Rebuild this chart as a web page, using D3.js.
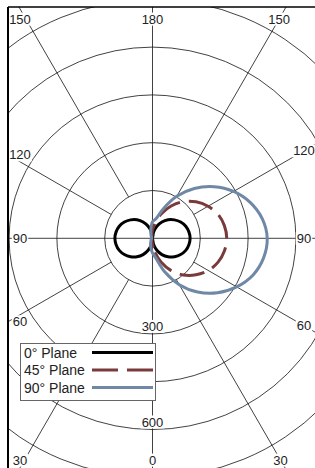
<!DOCTYPE html>
<html>
<head>
<meta charset="utf-8">
<script src="https://cdn.jsdelivr.net/npm/d3@7"></script>
<style>
body { margin: 0; background: #fff; }
text { font-family: "Liberation Sans", Arial, Helvetica, sans-serif; fill: #222; }
</style>
</head>
<body>
<div id="chart"></div>
<script>
// angle in degrees: 0 = bottom, 90 = right, 180 = top, 270 = left
var angles   = [0,10,20,30,40,50,60,70,80,90,100,110,120,130,140,150,160,170,
                180,190,200,210,220,230,240,250,260,270,280,290,300,310,320,330,340,350];
var plane0   = [2,20,40,59,76,90,102,111,116,118,116,111,102,90,76,59,40,20,
                2,20,40,59,76,90,102,111,116,118,116,111,102,90,76,59,40,20];
var plane45  = [20,45,80,117,150,178,202,219,229,233,229,219,201,178,150,117,82,50,
                25,10,5,3,3,3,3,3,3,3,3,3,3,3,3,3,5,10];
var plane90  = [46,64,112,168,220,266,305,336,354,360,350,327,294,252,204,152,98,62,
                52,30,15,8,5,4,3,3,3,3,3,3,4,5,7,10,18,30];
var ringValues   = [150,300,450,600,750,900,1050];
var radialLabels = [300,600];
var spokeAngles  = [0,30,60,90,120,150,180,210,240,270,300,330];
var seriesNames  = ["0\u00B0 Plane","45\u00B0 Plane","90\u00B0 Plane"];

var width = 315, height = 468;
var cx = 152.5, cy = 238.3;
var frame = {left: 8, top: 7, right: 315, bottom: 470};

var r = d3.scaleLinear().domain([0, 150]).range([0, 47.8]);
function rad(a) { return a * Math.PI / 180; }

var svg = d3.select("#chart").append("svg")
  .attr("width", width)
  .attr("height", height);

svg.append("clipPath").attr("id", "clip")
  .append("rect")
    .attr("x", frame.left).attr("y", frame.top)
    .attr("width", 320 - frame.left)
    .attr("height", 480 - frame.top);

var plot = svg.append("g").attr("clip-path", "url(#clip)");
var g = plot.append("g").attr("transform", "translate(" + cx + "," + cy + ")");

// rings
g.selectAll(".ring")
  .data(ringValues)
  .enter().append("circle")
    .attr("r", function(d) { return r(d); })
    .attr("fill", "none")
    .attr("stroke", "#111")
    .attr("stroke-width", 0.8);

// spokes; the main axes go through the centre, the others start at the first ring
g.selectAll(".spoke")
  .data(spokeAngles)
  .enter().append("line")
    .attr("x1", function(d) { return d % 90 == 0 ? 0 : r(150) * Math.sin(rad(d)); })
    .attr("y1", function(d) { return d % 90 == 0 ? 0 : r(150) * Math.cos(rad(d)); })
    .attr("x2", function(d) { return r(2000) * Math.sin(rad(d)); })
    .attr("y2", function(d) { return r(2000) * Math.cos(rad(d)); })
    .attr("stroke", "#111")
    .attr("stroke-width", 0.8);

// text with a white box behind it
function boxedText(parent, x, y, str, size) {
  var t = parent.append("text")
    .attr("x", x).attr("y", y)
    .attr("text-anchor", "middle")
    .style("font-size", size + "px")
    .text(str);
  var b = t.node().getBBox();
  parent.insert("rect", function() { return t.node(); })
    .attr("x", b.x - 1).attr("y", b.y + 1)
    .attr("width", b.width + 2).attr("height", b.height - 2)
    .attr("fill", "#fff");
}

// radial labels along the bottom axis
radialLabels.forEach(function(v) {
  boxedText(svg, cx, cy + r(v) - 3, v, 13);
});

// where a ray from the centre leaves a box
function hit(a, box) {
  var dx = Math.sin(rad(a)), dy = Math.cos(rad(a));
  var ts = [];
  if (dx > 1e-9) ts.push((box.right - cx) / dx);
  if (dx < -1e-9) ts.push((box.left - cx) / dx);
  if (dy > 1e-9) ts.push((box.bottom - cy) / dy);
  if (dy < -1e-9) ts.push((box.top - cy) / dy);
  var t = d3.min(ts);
  return [cx + t * dx, cy + t * dy];
}

// angle labels near the frame
var inner = {left: 20, right: 304, top: 19, bottom: 460};
spokeAngles.forEach(function(a) {
  var p = a <= 180 ? hit(a, inner) : hit(a, frame);
  var x = Math.max(inner.left, Math.min(inner.right, p[0]));
  var y = Math.max(inner.top, Math.min(inner.bottom, p[1]));
  var label = a <= 180 ? a : 360 - a;
  boxedText(svg, x, y + 4.6, label, 13);
});

// curves
var line = d3.lineRadial()
  .angle(function(d) { return Math.PI - rad(d[0]); })
  .radius(function(d) { return r(d[1]); })
  .curve(d3.curveCatmullRomClosed);

var series = [
  {values: plane0,  color: "#000000", dash: null},
  {values: plane45, color: "#7a3a3a", dash: "25,9"},
  {values: plane90, color: "#6f88a6", dash: null}
];

series.forEach(function(s) {
  g.append("path")
    .datum(angles.map(function(a, i) { return [a, s.values[i]]; }))
    .attr("fill", "none")
    .attr("stroke", s.color)
    .attr("stroke-width", 3)
    .attr("stroke-dasharray", s.dash)
    .attr("d", line);
});

// legend
var legend = svg.append("g");
legend.append("rect")
  .attr("x", 20.5).attr("y", 343.5)
  .attr("width", 135).attr("height", 57)
  .attr("fill", "#fff")
  .attr("stroke", "#666")
  .attr("stroke-width", 1);

series.forEach(function(s, i) {
  var y = 352.5 + i * 17.5;
  legend.append("text")
    .attr("x", 24).attr("y", y + 5)
    .style("font-size", "14px")
    .text(seriesNames[i]);
  legend.append("line")
    .attr("x1", 92).attr("x2", 153)
    .attr("y1", y).attr("y2", y)
    .attr("stroke", s.color)
    .attr("stroke-width", 3)
    .attr("stroke-dasharray", s.dash ? "26,9" : null);
});

// frame
svg.append("line")
  .attr("x1", frame.left).attr("x2", frame.left)
  .attr("y1", frame.top).attr("y2", height)
  .attr("stroke", "#000").attr("stroke-width", 2);
svg.append("line")
  .attr("x1", frame.left).attr("x2", width)
  .attr("y1", frame.top).attr("y2", frame.top)
  .attr("stroke", "#000").attr("stroke-width", 1.5);
</script>
</body>
</html>
